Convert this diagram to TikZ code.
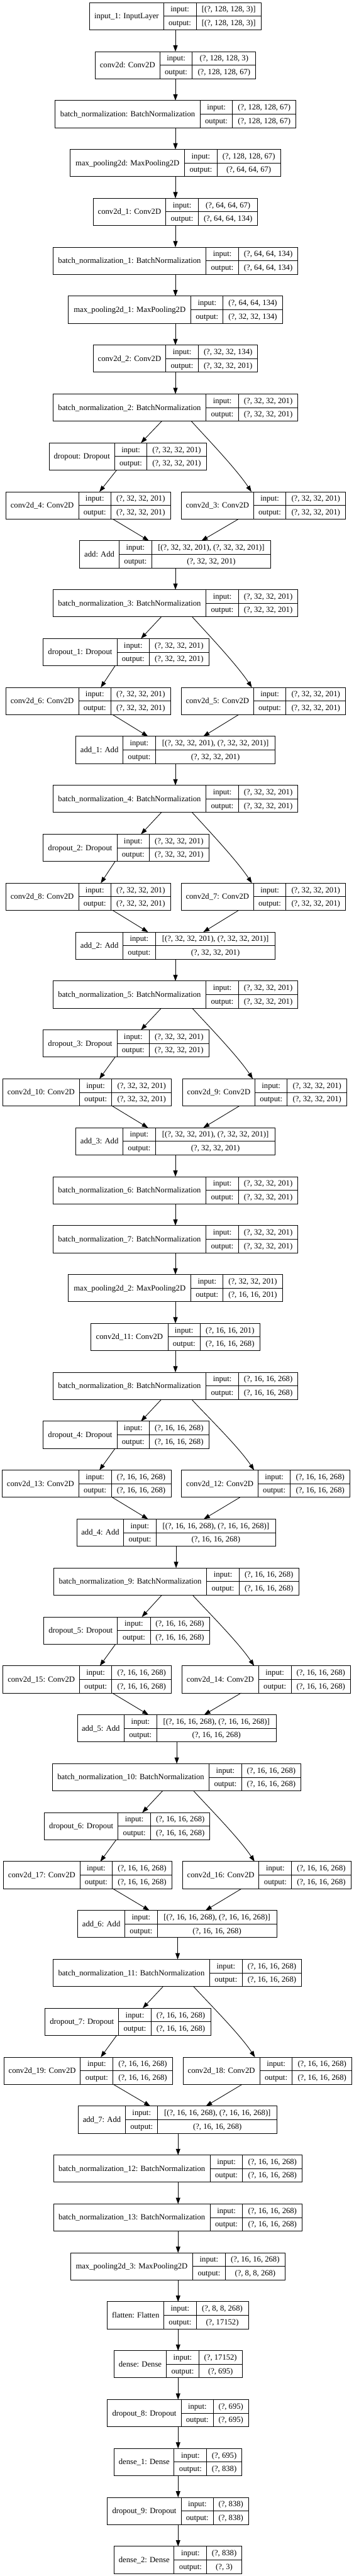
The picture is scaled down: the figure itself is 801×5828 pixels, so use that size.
\documentclass[tikz,border=0pt]{standalone}
\usepackage{fontspec}
\setmainfont{Liberation Serif}
\usetikzlibrary{arrows.meta}
\tikzset{
  lbox/.style={draw, line width=0.65pt, inner sep=0pt, outer sep=0pt, anchor=north west, minimum height=30.75pt},
  cellline/.style={line width=0.65pt},
  txt/.style={inner sep=0pt, text height=7.5pt, text depth=1.9pt, font=\fontsize{9}{10}\selectfont},
  arr/.style={line width=0.6pt, -{Triangle[length=7pt,width=5pt]}},
}
\newcommand{\ShA}{(?, 32, 32, 201)}
\newcommand{\ShB}{(?, 16, 16, 268)}
\newcommand{\AdA}{[(?, 32, 32, 201), (?, 32, 32, 201)]}
\newcommand{\AdB}{[(?, 16, 16, 268), (?, 16, 16, 268)]}
% name, row, xL, x1, x2, xR, label, input, output
\newcommand{\layer}[9]{%
  \pgfmathsetmacro{\LYt}{6+#2*110.67}%
  \pgfmathsetmacro{\LYb}{\LYt+61.5}%
  \pgfmathsetmacro{\LYm}{\LYt+30.75}%
  \pgfmathsetmacro{\LYw}{(#6-#3)*0.5}%
  \node[lbox, minimum width=\LYw pt] (#1) at (#3,\LYt) {};
  \draw[cellline] (#4,\LYt) -- (#4,\LYb) (#5,\LYt) -- (#5,\LYb) (#4,\LYm) -- (#6,\LYm);
  \node[txt] at ({(#3+#4)/2},\LYm) {#7};
  \node[txt] at ({(#4+#5)/2},{\LYt+15.4}) {input:};
  \node[txt] at ({(#4+#5)/2},{\LYt+46.1}) {output:};
  \node[txt] at ({(#5+#6)/2},{\LYt+15.4}) {#8};
  \node[txt] at ({(#5+#6)/2},{\LYt+46.1}) {#9};
}
\begin{document}
\begin{tikzpicture}[x=0.5pt, y=-0.5pt]
\fill[white] (0,0) rectangle (801,5828);
\useasboundingbox (0,0) rectangle (801,5828);

\layer{in1}{0}{203}{370}{444}{591}{input\_1: InputLayer}{[(?, 128, 128, 3)]}{[(?, 128, 128, 3)]}
\layer{c0}{1}{215}{362}{435}{579}{conv2d: Conv2D}{(?, 128, 128, 3)}{(?, 128, 128, 67)}
\layer{bn0}{2}{125}{453}{526}{670}{batch\_normalization: BatchNormalization}{(?, 128, 128, 67)}{(?, 128, 128, 67)}
\layer{mp0}{3}{159}{418}{491}{635}{max\_pooling2d: MaxPooling2D}{(?, 128, 128, 67)}{(?, 64, 64, 67)}
\layer{c1}{4}{211}{375}{449}{583}{conv2d\_1: Conv2D}{(?, 64, 64, 67)}{(?, 64, 64, 134)}
\layer{bn1}{5}{120}{466}{540}{674}{batch\_normalization\_1: BatchNormalization}{(?, 64, 64, 134)}{(?, 64, 64, 134)}
\layer{mp1}{6}{155}{432}{505}{639}{max\_pooling2d\_1: MaxPooling2D}{(?, 64, 64, 134)}{(?, 32, 32, 134)}
\layer{c2}{7}{211}{375}{449}{583}{conv2d\_2: Conv2D}{(?, 32, 32, 134)}{\ShA}
\layer{bn2}{8}{120}{466}{540}{674}{batch\_normalization\_2: BatchNormalization}{\ShA}{\ShA}
\layer{do0}{9}{111}{259.5}{332.5}{467}{dropout: Dropout}{\ShA}{\ShA}
\layer{c4}{10}{13}{178}{251}{386}{conv2d\_4: Conv2D}{\ShA}{\ShA}
\layer{c3}{10}{410}{574}{647}{782}{conv2d\_3: Conv2D}{\ShA}{\ShA}
\layer{add0}{11}{180}{270}{343}{613}{add: Add}{\AdA}{\ShA}
\layer{bn3}{12}{120}{466}{540}{674}{batch\_normalization\_3: BatchNormalization}{\ShA}{\ShA}
\layer{do1}{13}{98}{264.6}{338}{472.5}{dropout\_1: Dropout}{\ShA}{\ShA}
\layer{c6}{14}{13}{178}{251}{386}{conv2d\_6: Conv2D}{\ShA}{\ShA}
\layer{c5}{14}{410}{574}{647}{782}{conv2d\_5: Conv2D}{\ShA}{\ShA}
\layer{add1}{15}{172}{278}{352}{623}{add\_1: Add}{\AdA}{\ShA}
\layer{bn4}{16}{120}{466}{540}{674}{batch\_normalization\_4: BatchNormalization}{\ShA}{\ShA}
\layer{do2}{17}{98}{264.6}{338}{472.5}{dropout\_2: Dropout}{\ShA}{\ShA}
\layer{c8}{18}{13}{178}{251}{386}{conv2d\_8: Conv2D}{\ShA}{\ShA}
\layer{c7}{18}{410}{574}{647}{782}{conv2d\_7: Conv2D}{\ShA}{\ShA}
\layer{add2}{19}{172}{278}{352}{623}{add\_2: Add}{\AdA}{\ShA}
\layer{bn5}{20}{120}{466}{540}{674}{batch\_normalization\_5: BatchNormalization}{\ShA}{\ShA}
\layer{do3}{21}{98}{264.6}{338}{472.5}{dropout\_3: Dropout}{\ShA}{\ShA}
\layer{c10}{22}{6}{180}{253}{388}{conv2d\_10: Conv2D}{\ShA}{\ShA}
\layer{c9}{22}{413}{577}{650}{785}{conv2d\_9: Conv2D}{\ShA}{\ShA}
\layer{add3}{23}{172}{278}{352}{623}{add\_3: Add}{\AdA}{\ShA}
\layer{bn6}{24}{120}{466}{540}{674}{batch\_normalization\_6: BatchNormalization}{\ShA}{\ShA}
\layer{bn7}{25}{120}{466}{540}{674}{batch\_normalization\_7: BatchNormalization}{\ShA}{\ShA}
\layer{mp2}{26}{155}{432}{505}{639}{max\_pooling2d\_2: MaxPooling2D}{\ShA}{(?, 16, 16, 201)}
\layer{c11}{27}{206}{380}{453}{588}{conv2d\_11: Conv2D}{(?, 16, 16, 201)}{\ShB}
\layer{bn8}{28}{120}{466}{540}{674}{batch\_normalization\_8: BatchNormalization}{\ShB}{\ShB}
\layer{do4}{29}{98}{264.6}{338}{472.5}{dropout\_4: Dropout}{\ShB}{\ShB}
\layer{c13}{30}{5}{178}{252}{387}{conv2d\_13: Conv2D}{\ShB}{\ShB}
\layer{c12}{30}{411}{584}{657}{792}{conv2d\_12: Conv2D}{\ShB}{\ShB}
\layer{add4}{31}{174}{280}{353}{624}{add\_4: Add}{\AdB}{\ShB}
\layer{bn9}{32}{121}{468}{541}{676}{batch\_normalization\_9: BatchNormalization}{\ShB}{\ShB}
\layer{do5}{33}{99}{266}{340}{474}{dropout\_5: Dropout}{\ShB}{\ShB}
\layer{c15}{34}{7}{180}{253}{388}{conv2d\_15: Conv2D}{\ShB}{\ShB}
\layer{c14}{34}{412}{585}{659}{793}{conv2d\_14: Conv2D}{\ShB}{\ShB}
\layer{add5}{35}{175}{281}{354.5}{625}{add\_5: Add}{\AdB}{\ShB}
\layer{bn10}{36}{118.5}{473.5}{546.6}{681}{batch\_normalization\_10: BatchNormalization}{\ShB}{\ShB}
\layer{do6}{37}{100.6}{267}{341}{475}{dropout\_6: Dropout}{\ShB}{\ShB}
\layer{c17}{38}{7.7}{181}{254}{389}{conv2d\_17: Conv2D}{\ShB}{\ShB}
\layer{c16}{38}{413}{586}{660}{794}{conv2d\_16: Conv2D}{\ShB}{\ShB}
\layer{add6}{39}{176}{282.5}{356}{626}{add\_6: Add}{\AdB}{\ShB}
\layer{bn11}{40}{120}{474.6}{548}{682.5}{batch\_normalization\_11: BatchNormalization}{\ShB}{\ShB}
\layer{do7}{41}{102}{268.7}{341.7}{476.6}{dropout\_7: Dropout}{\ShB}{\ShB}
\layer{c19}{42}{9}{182}{256}{390}{conv2d\_19: Conv2D}{\ShB}{\ShB}
\layer{c18}{42}{414}{588}{661.5}{796}{conv2d\_18: Conv2D}{\ShB}{\ShB}
\layer{add7}{43}{177}{284}{357}{627}{add\_7: Add}{\AdB}{\ShB}
\layer{bn12}{44}{121}{475.6}{549}{684}{batch\_normalization\_12: BatchNormalization}{\ShB}{\ShB}
\layer{bn13}{45}{121}{475.6}{549}{684}{batch\_normalization\_13: BatchNormalization}{\ShB}{\ShB}
\layer{mp3}{46}{160}{436}{510}{645}{max\_pooling2d\_3: MaxPooling2D}{\ShB}{(?, 8, 8, 268)}
\layer{fl}{47}{243}{371}{444}{562}{flatten: Flatten}{(?, 8, 8, 268)}{(?, 17152)}
\layer{de0}{48}{258}{376.5}{450}{548}{dense: Dense}{(?, 17152)}{(?, 695)}
\layer{do8}{49}{243}{410}{483}{562}{dropout\_8: Dropout}{(?, 695)}{(?, 695)}
\layer{de1}{50}{258.5}{394}{468}{546.6}{dense\_1: Dense}{(?, 695)}{(?, 838)}
\layer{do9}{51}{243}{410}{483}{562}{dropout\_9: Dropout}{(?, 838)}{(?, 838)}
\layer{de2}{52}{258.5}{394}{468}{546.6}{dense\_2: Dense}{(?, 838)}{(?, 3)}

% main column
\foreach \a/\b/\x in {in1/c0/397, c0/bn0/397, bn0/mp0/397, mp0/c1/397, c1/bn1/397, bn1/mp1/397, mp1/c2/397, c2/bn2/397,
  add0/bn3/397, add1/bn4/397, add2/bn5/397, add3/bn6/397, bn6/bn7/397, bn7/mp2/397, mp2/c11/397, c11/bn8/397,
  add4/bn9/398.5, add5/bn10/400, add6/bn11/402, add7/bn12/403, bn12/bn13/403, bn13/mp3/403, mp3/fl/403,
  fl/de0/403, de0/do8/403, do8/de1/403, de1/do9/403, do9/de2/403}
  \draw[arr] (\a.south -| \x,0) -- (\b.north -| \x,0);

% residual blocks: bn, dropout, conv-left, conv-right, add, bnL, doTip, bnR, crTip, doExit, clTip, clExit, addL, crExit, addR
\foreach \bn/\do/\cl/\cr/\ad/\bL/\dT/\bR/\rT/\dE/\lT/\lE/\aL/\rE/\aR in {
  bn2/do0/c4/c3/add0/366/319/433/569/264/225/255/337/540/456,
  bn3/do1/c6/c5/add1/365/319/435/570/260.5/228/255/335/540/460,
  bn4/do2/c8/c7/add2/365/319/435/570/260.5/228/255/335/540/460,
  bn5/do3/c10/c9/add3/365/319/435/572/260.5/225/254/335/541.5/460,
  bn8/do4/c13/c12/add4/365/319/434/575/260.5/225/254/335/543/461,
  bn9/do5/c15/c14/add5/366/321/436/575/261.5/226/254/336/545.6/462,
  bn10/do6/c17/c16/add6/368/322/438/576/263/227/255.4/338/546.6/465,
  bn11/do7/c19/c18/add7/369/323/438/577/264/228/256.4/340/548/466}
{
  \draw[arr] (\bn.south -| \bL,0) -- (\do.north -| \dT,0);
  \draw[arr] (\bn.south -| \bR,0) .. controls +(27,30) and +(-35,-53) .. (\cr.north -| \rT,0);
  \draw[arr] (\do.south -| \dE,0) -- (\cl.north -| \lT,0);
  \draw[arr] (\cl.south -| \lE,0) -- (\ad.north -| \aL,0);
  \draw[arr] (\cr.south -| \rE,0) -- (\ad.north -| \aR,0);
}
\end{tikzpicture}
\end{document}
